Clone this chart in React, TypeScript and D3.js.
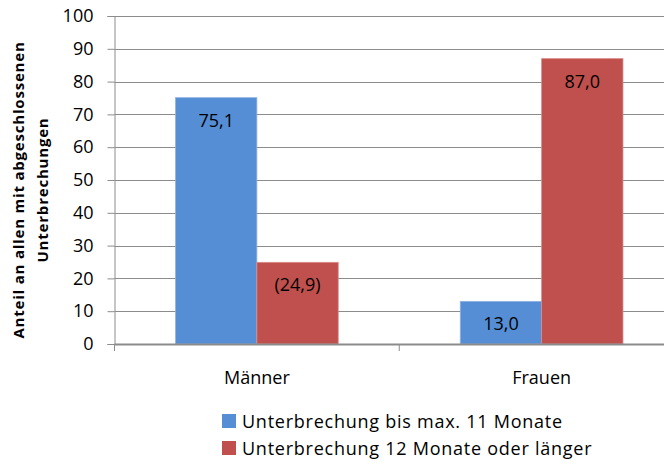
import React, { useEffect, useRef } from 'react';
import * as d3 from 'd3';

// data
const categories = ['Männer', 'Frauen'];
const seriesNames = ['Unterbrechung bis max. 11 Monate', 'Unterbrechung 12 Monate oder länger'];
const shortBreak = [75.1, 13.0];
const longBreak = [24.9, 87.0];
const labelsShort = ['75,1', '13,0'];
const labelsLong = ['(24,9)', '87,0'];
const yTicks = [0, 10, 20, 30, 40, 50, 60, 70, 80, 90, 100];
const colors = ['#558ed5', '#c0504d'];

const W = 672;
const H = 466;
const FONT = '"Open Sans", Lato, sans-serif';

export default function App() {
  const ref = useRef<SVGSVGElement>(null);

  useEffect(() => {
    const svg = d3.select(ref.current);
    svg.selectAll('*').remove();

    const left = 114.5;
    const right = 684;
    const top = 16;
    const bottom = 344;

    const y = d3.scaleLinear().domain([0, 100]).range([bottom, top]);
    const x = d3.scaleBand().domain(categories).range([left, right]).paddingInner(0).paddingOuter(0);
    const barW = x.bandwidth() / 3.5;
    const inner = d3.scaleBand().domain(['0', '1']).range([0, barW * 2]);

    // gridlines
    svg.append('g')
      .selectAll('line')
      .data(yTicks.slice(1))
      .enter()
      .append('line')
      .attr('x1', left)
      .attr('x2', right)
      .attr('y1', d => Math.round(y(d)) + 0.5)
      .attr('y2', d => Math.round(y(d)) + 0.5)
      .attr('stroke', '#8c8c8c')
      .attr('stroke-width', 1);

    // y axis
    const yAxis = svg.append('g')
      .attr('transform', `translate(${left},0)`)
      .call(d3.axisLeft(y).tickValues(yTicks).tickSize(7).tickPadding(14).tickFormat(d3.format('d')));
    yAxis.select('.domain').attr('stroke', '#8c8c8c');
    yAxis.selectAll('line').attr('stroke', '#8c8c8c');
    yAxis.selectAll('text')
      .attr('font-family', FONT)
      .attr('font-size', 18)
      .attr('fill', '#000');

    const series = [shortBreak, longBreak];
    const labels = [labelsShort, labelsLong];

    series.forEach((vals, si) => {
      const g = svg.append('g');
      g.selectAll('rect')
        .data(vals)
        .enter()
        .append('rect')
        .attr('x', (d, i) => (x(categories[i]) as number) + barW * 0.75 + (inner(String(si)) as number))
        .attr('y', d => y(d))
        .attr('width', barW)
        .attr('height', d => y(0) - y(d))
        .attr('fill', colors[si])
        .attr('stroke', si === 0 ? '#8fb3e3' : '#d98c8a')
        .attr('stroke-width', 0.8);
      g.selectAll('text')
        .data(vals)
        .enter()
        .append('text')
        .attr('x', (d, i) => (x(categories[i]) as number) + barW * 0.75 + (inner(String(si)) as number) + barW / 2)
        .attr('y', d => y(d) + 29)
        .attr('text-anchor', 'middle')
        .attr('font-family', FONT)
        .attr('font-size', 18)
        .attr('fill', '#000')
        .text((d, i) => labels[si][i]);
    });

    // x axis
    const xAxis = svg.append('g')
      .attr('transform', `translate(0,${bottom})`);
    xAxis.append('line')
      .attr('x1', left).attr('x2', right)
      .attr('y1', 0.5).attr('y2', 0.5)
      .attr('stroke', '#8c8c8c').attr('stroke-width', 2);
    xAxis.selectAll('line.tick')
      .data([left, left + x.bandwidth(), right])
      .enter()
      .append('line')
      .attr('class', 'tick')
      .attr('x1', d => d).attr('x2', d => d)
      .attr('y1', 0).attr('y2', 7)
      .attr('stroke', '#8c8c8c');
    xAxis.selectAll('text')
      .data(categories)
      .enter()
      .append('text')
      .attr('x', d => (x(d) as number) + x.bandwidth() / 2)
      .attr('y', 40)
      .attr('text-anchor', 'middle')
      .attr('font-family', FONT)
      .attr('font-size', 18)
      .attr('fill', '#000')
      .text(d => d);

    // axis title
    const title = svg.append('text')
      .attr('transform', 'translate(0,190) rotate(-90)')
      .attr('text-anchor', 'middle')
      .attr('font-family', FONT)
      .attr('font-weight', 'bold')
      .attr('font-size', 15)
      .attr('letter-spacing', 0.8)
      .attr('fill', '#000');
    title.append('tspan').attr('x', 0).attr('y', 24).text('Anteil an allen mit abgeschlossenen');
    title.append('tspan').attr('x', 0).attr('y', 48).text('Unterbrechungen');

    // legend
    const legend = svg.append('g').attr('transform', 'translate(222,414)');
    seriesNames.forEach((name, i) => {
      legend.append('rect')
        .attr('x', 0)
        .attr('y', i * 27)
        .attr('width', 14)
        .attr('height', 14)
        .attr('fill', colors[i]);
      legend.append('text')
        .attr('x', 20)
        .attr('y', i * 27 + 14)
        .attr('font-family', FONT)
        .attr('font-size', 18)
        .attr('letter-spacing', 0.75)
        .attr('fill', '#000')
        .text(name);
    });
  }, []);

  return (
    <svg ref={ref} width={W} height={H} style={{ display: 'block', margin: '-8px 0 0 -8px' }} />
  );
}
